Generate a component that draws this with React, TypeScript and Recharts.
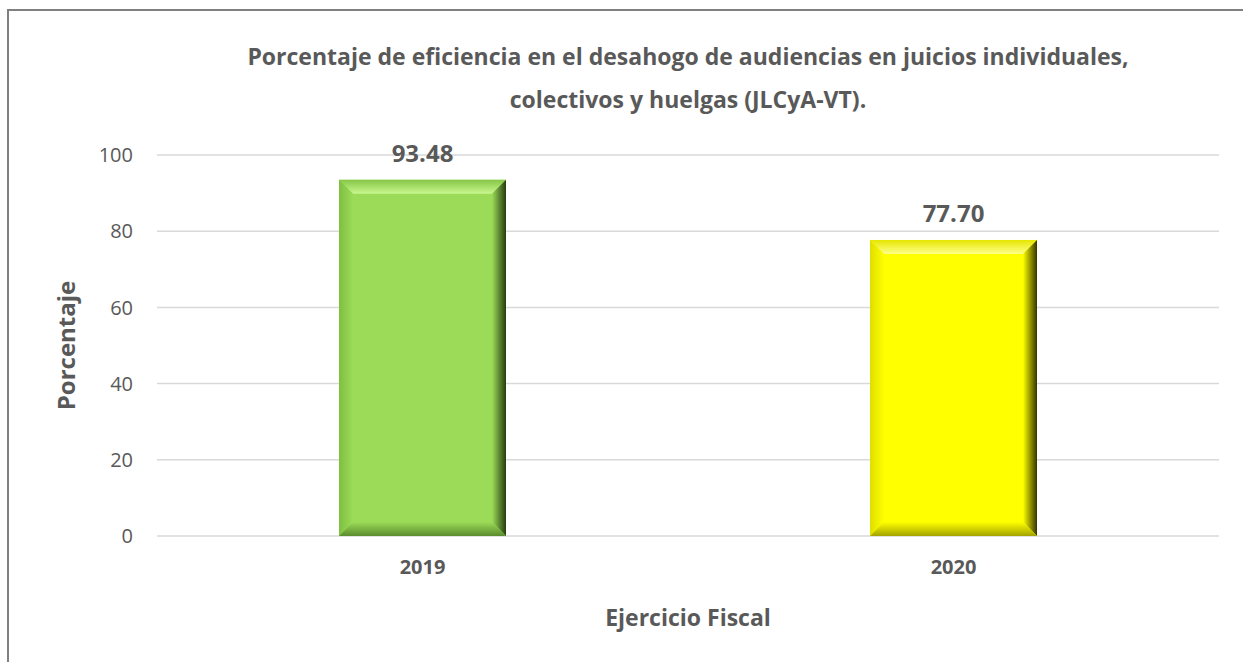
import { BarChart, Bar, XAxis, YAxis, CartesianGrid, LabelList } from 'recharts'

const years = ['2019', '2020']
const efficiency = [93.48, 77.7]
const yTicks = [0, 20, 40, 60, 80, 100]

const palettes = [
  { base: '#9cdb58', light: '#c9f790', edge: '#86c746', left: '#7fbf40', right: '#263d10', bottom: '#5a8c2e' },
  { base: '#ffff00', light: '#ffff8a', edge: '#e6e600', left: '#dede00', right: '#353500', bottom: '#a3a300' },
]

const data = years.map((year, i) => ({ year, value: efficiency[i] }))

const font = '"Open Sans", "Noto Sans", sans-serif'
const grey = '#595959'

function BevelBar(props: any) {
  const { x, y, width: w, height: h, index } = props
  if (!h || h <= 0) return null
  const p = palettes[index % palettes.length]
  const b = 14
  const id = `bev${index}`
  return (
    <g>
      <defs>
        <linearGradient id={`${id}t`} x1="0" y1="0" x2="0" y2="1">
          <stop offset="0" stopColor={p.edge} />
          <stop offset="1" stopColor={p.light} />
        </linearGradient>
        <linearGradient id={`${id}l`} x1="0" y1="0" x2="1" y2="0">
          <stop offset="0" stopColor={p.left} />
          <stop offset="1" stopColor={p.base} />
        </linearGradient>
        <linearGradient id={`${id}r`} x1="0" y1="0" x2="1" y2="0">
          <stop offset="0" stopColor={p.base} />
          <stop offset="1" stopColor={p.right} />
        </linearGradient>
        <linearGradient id={`${id}b`} x1="0" y1="0" x2="0" y2="1">
          <stop offset="0" stopColor={p.base} />
          <stop offset="1" stopColor={p.bottom} />
        </linearGradient>
      </defs>
      <rect x={x} y={y} width={w} height={h} fill={p.base} />
      <polygon points={`${x},${y} ${x + w},${y} ${x + w - b},${y + b} ${x + b},${y + b}`} fill={`url(#${id}t)`} />
      <polygon points={`${x},${y} ${x + b},${y + b} ${x + b},${y + h - b} ${x},${y + h}`} fill={`url(#${id}l)`} />
      <polygon points={`${x + w},${y} ${x + w},${y + h} ${x + w - b},${y + h - b} ${x + w - b},${y + b}`} fill={`url(#${id}r)`} />
      <polygon points={`${x},${y + h} ${x + b},${y + h - b} ${x + w - b},${y + h - b} ${x + w},${y + h}`} fill={`url(#${id}b)`} />
    </g>
  )
}

export default function App() {
  return (
    <div style={{ position: 'absolute', left: 0, top: 0, width: 1243, height: 662, overflow: 'hidden', background: '#fff', fontFamily: font }}>
      <div
        style={{
          position: 'absolute',
          left: 7,
          top: 9,
          width: 1236,
          height: 653,
          borderTop: '2px solid #808080',
          borderLeft: '2px solid #808080',
          boxSizing: 'border-box',
        }}
      />
      <div
        style={{
          position: 'absolute',
          left: 88,
          width: 1200,
          top: 35,
          textAlign: 'center',
          color: grey,
          fontWeight: 700,
          fontSize: 23,
          lineHeight: '43px',
        }}
      >
        Porcentaje de eficiencia en el desahogo de audiencias en juicios individuales,
        <br />
        colectivos y huelgas (JLCyA-VT).
      </div>
      <div style={{ position: 'absolute', left: 0, top: 0 }}>
        <BarChart width={1243} height={662} data={data} margin={{ top: 155, right: 24, bottom: 0, left: 0 }}>
          <CartesianGrid vertical={false} stroke="#d9d9d9" strokeWidth={1.5} />
          <XAxis
            dataKey="year"
            height={126}
            axisLine={false}
            tickLine={false}
            tickSize={0}
            tickMargin={24}
            tick={{ fill: grey, fontSize: 20, fontWeight: 700, fontFamily: font }}
            label={{ value: 'Ejercicio Fiscal', position: 'insideBottom', offset: 36, fill: grey, fontSize: 23, fontWeight: 700, fontFamily: font }}
          />
          <YAxis
            width={157}
            domain={[0, 100]}
            ticks={yTicks}
            axisLine={false}
            tickLine={false}
            tickSize={0}
            tickMargin={24}
            tick={{ fill: grey, fontSize: 20, fontFamily: font }}
            label={{ value: 'Porcentaje', angle: -90, position: 'insideLeft', offset: 66, fill: grey, fontSize: 24, fontWeight: 700, fontFamily: font, style: { textAnchor: 'middle' } }}
          />
          <Bar dataKey="value" barSize={167} shape={BevelBar} isAnimationActive={false}>
            <LabelList
              dataKey="value"
              position="top"
              offset={18}
              formatter={(v: any) => Number(v).toFixed(2)}
              style={{ fill: grey, fontSize: 24, fontWeight: 700, fontFamily: font }}
            />
          </Bar>
        </BarChart>
      </div>
    </div>
  )
}
